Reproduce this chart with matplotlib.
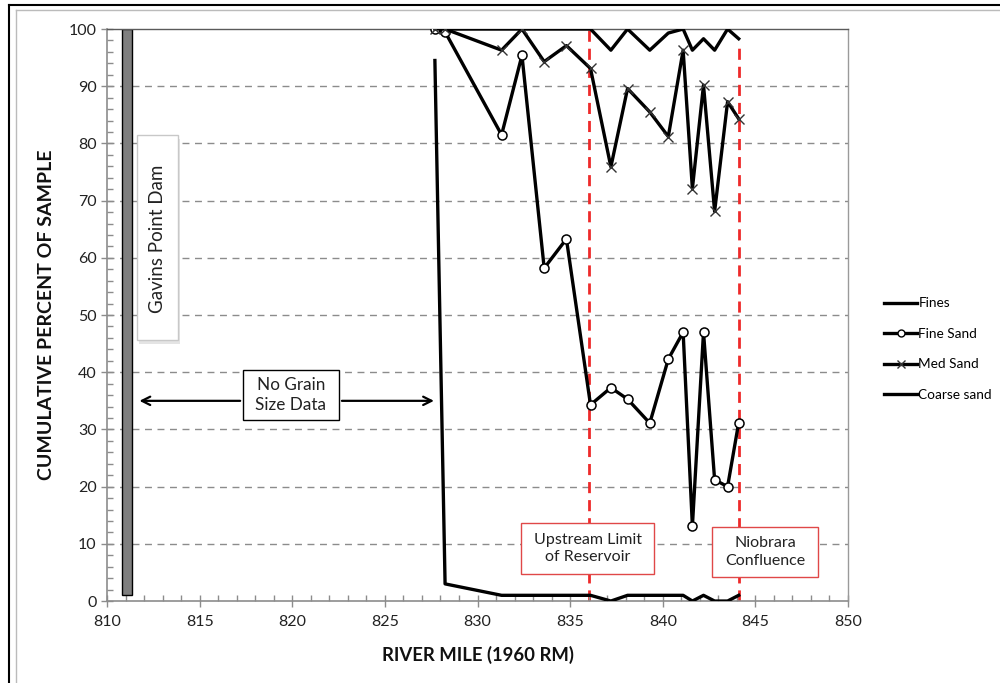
import matplotlib
matplotlib.use("Agg")
import matplotlib.pyplot as plt
from matplotlib.lines import Line2D
from matplotlib.patches import Rectangle
from matplotlib.ticker import MultipleLocator

plt.rcParams['font.family'] = ['Lato', 'DejaVu Sans']

# ---- data ----
miles = [827.7, 828.25, 831.3, 832.4, 833.6, 834.8, 836.1, 837.2, 838.1,
         839.3, 840.3, 841.1, 841.6, 842.2, 842.8, 843.5, 844.1]
fines = [94.5, 3, 1, 1, 1, 1, 1, 0, 1, 1, 1, 1, 0, 1, 0, 0, 1]
fine_sand = [100, 99.5, 81.5, 95.4, 58.2, 63.3, 34.3, 37.3, 35.3, 31.1,
             42.3, 47.0, 13.1, 47.0, 21.2, 20.0, 31.2]
med_sand = [100, 100, 96.3, 100, 94.3, 97.1, 93.1, 75.9, 89.6, 85.5,
            81.2, 96.3, 72.1, 90.2, 68.1, 87.3, 84.3]
coarse_sand = [100, 100, 100, 100, 100, 100, 100, 96.3, 100, 96.3,
               99.3, 100, 96.3, 98.3, 96.3, 100, 98.3]
series_names = ["Fines", "Fine Sand", "Med Sand", "Coarse sand"]

dam_mile = (810.8, 811.35)
dam_range = (1, 100)
upstream_limit = 836.0
niobrara = 844.1
xticks = [810, 815, 820, 825, 830, 835, 840, 845, 850]
yticks = [0, 10, 20, 30, 40, 50, 60, 70, 80, 90, 100]

fig = plt.figure(figsize=(10, 6.83), dpi=100)
ax = fig.add_axes([0.107, 0.12, 0.741, 0.8375])
ax.set_xlim(810, 850)
ax.set_ylim(0, 100)

# grid
for v in yticks[1:-1]:
    ax.axhline(v, color='#8c8c8c', lw=1, ls=(0, (5, 4)), zorder=0.5)

# red dashed limits
ax.plot([upstream_limit, upstream_limit], [0, 100], color='#ee2a2a', lw=2,
        ls=(0, (4, 2.5)), zorder=1)
ax.plot([niobrara, niobrara], [0, 97.5], color='#ee2a2a', lw=2,
        ls=(0, (4, 2.5)), zorder=1)

# dam bar
ax.bar((dam_mile[0] + dam_mile[1]) / 2, dam_range[1] - dam_range[0],
       width=dam_mile[1] - dam_mile[0], bottom=dam_range[0],
       color='#7f7f7f', edgecolor='black', lw=1, zorder=2)

# series
lw = 2.4
ax.plot(miles, fines, color='black', lw=lw, zorder=3, label=series_names[0])
ax.plot(miles, fine_sand, color='black', lw=lw, marker='o', ms=6.5,
        mfc='white', mec='black', mew=1.1, zorder=4, label=series_names[1])
ax.plot(miles, med_sand, color='black', lw=lw, marker='x', ms=7,
        mec='#333333', mew=1.0, zorder=4, label=series_names[2])
ax.plot(miles, coarse_sand, color='black', lw=lw, zorder=3,
        label=series_names[3])


def box(x0, x1, y0, y1, ec, z=5):
    ax.add_patch(Rectangle((x0, y0), x1 - x0, y1 - y0, fc='white', ec=ec,
                           lw=1, zorder=z))


# annotations
ax.add_patch(Rectangle((811.72, 44.9), 2.21, 35.9, fc='#e4e4e4', ec='none',
                       zorder=4.9))
box(811.62, 813.83, 45.6, 81.5, '#c8c8c8')
ax.text(812.72, 63.3, "Gavins Point Dam", rotation=90, ha='center',
        va='center', fontsize=13.5, color='#222222', zorder=6)

box(817.34, 822.53, 31.6, 40.4, 'black')
ax.text(819.93, 36.0, "No Grain\nSize Data", ha='center', va='center',
        fontsize=12.3, color='#222222', linespacing=1.3, zorder=6)
arrow_kw = dict(arrowstyle='->', color='black', lw=1.6, mutation_scale=15)
ax.annotate('', xy=(811.6, 35), xytext=(817.34, 35), arrowprops=arrow_kw,
            zorder=5)
ax.annotate('', xy=(827.8, 35), xytext=(822.53, 35), arrowprops=arrow_kw,
            zorder=5)

box(832.35, 839.54, 4.7, 13.6, '#e04848')
ax.text(835.95, 9.15, "Upstream Limit\nof Reservoir", ha='center',
        va='center', fontsize=11.5, color='#222222', linespacing=1.3,
        zorder=6)
box(842.67, 848.39, 4.2, 12.9, '#e04848')
ax.text(845.53, 8.55, "Niobrara\nConfluence", ha='center', va='center',
        fontsize=11.5, color='#222222', linespacing=1.3, zorder=6)

# axes styling
ax.set_xticks(xticks)
ax.set_yticks(yticks)
ax.xaxis.set_minor_locator(MultipleLocator(1))
ax.yaxis.set_minor_locator(MultipleLocator(2))
ax.tick_params(which='major', direction='inout', length=8, width=1,
               color='#8c8c8c', labelsize=11.5, labelcolor='#222222')
ax.tick_params(axis='x', which='major', pad=6)
ax.tick_params(which='minor', direction='in', length=4, width=1,
               color='#8c8c8c')
for s in ['left', 'bottom']:
    ax.spines[s].set_color('#8c8c8c')
    ax.spines[s].set_linewidth(1.2)
for s in ['top', 'right']:
    ax.spines[s].set_color('#5a5a5a')
    ax.spines[s].set_linewidth(1)
ax.spines['right'].set_color('#9a9a9a')
ax.set_xlabel("RIVER MILE (1960 RM)", fontsize=13.3, fontweight='bold',
              labelpad=12, color='#111111')
ax.set_ylabel("CUMULATIVE PERCENT OF SAMPLE", fontsize=14,
              fontweight='bold', labelpad=10, color='#111111')

# legend
handles = [
    Line2D([], [], color='black', lw=2.4),
    Line2D([], [], color='black', lw=2.4, marker='o', ms=5, mfc='white',
           mec='black'),
    Line2D([], [], color='black', lw=2.4, marker='x', ms=6, mec='#333333'),
    Line2D([], [], color='black', lw=2.4),
]
fig.legend(handles, series_names, loc='upper left',
           bbox_to_anchor=(0.879, 1 - 292 / 683), frameon=False,
           fontsize=9.8, handlelength=2.4, handletextpad=0.1,
           labelspacing=1.36, borderaxespad=0)

# figure border
fig.add_artist(Line2D([0.009, 0.009], [0, 0.992], color='black', lw=1.5,
                      transform=fig.transFigure))
fig.add_artist(Line2D([0.009, 1.0], [0.992, 0.992], color='black', lw=1.5,
                      transform=fig.transFigure))
fig.add_artist(Line2D([0.016, 0.016], [0, 0.985], color='#bbbbbb', lw=1,
                      transform=fig.transFigure))
fig.add_artist(Line2D([0.016, 1.0], [0.985, 0.985], color='#bbbbbb', lw=1,
                      transform=fig.transFigure))

fig.savefig("out.png", dpi=100)
